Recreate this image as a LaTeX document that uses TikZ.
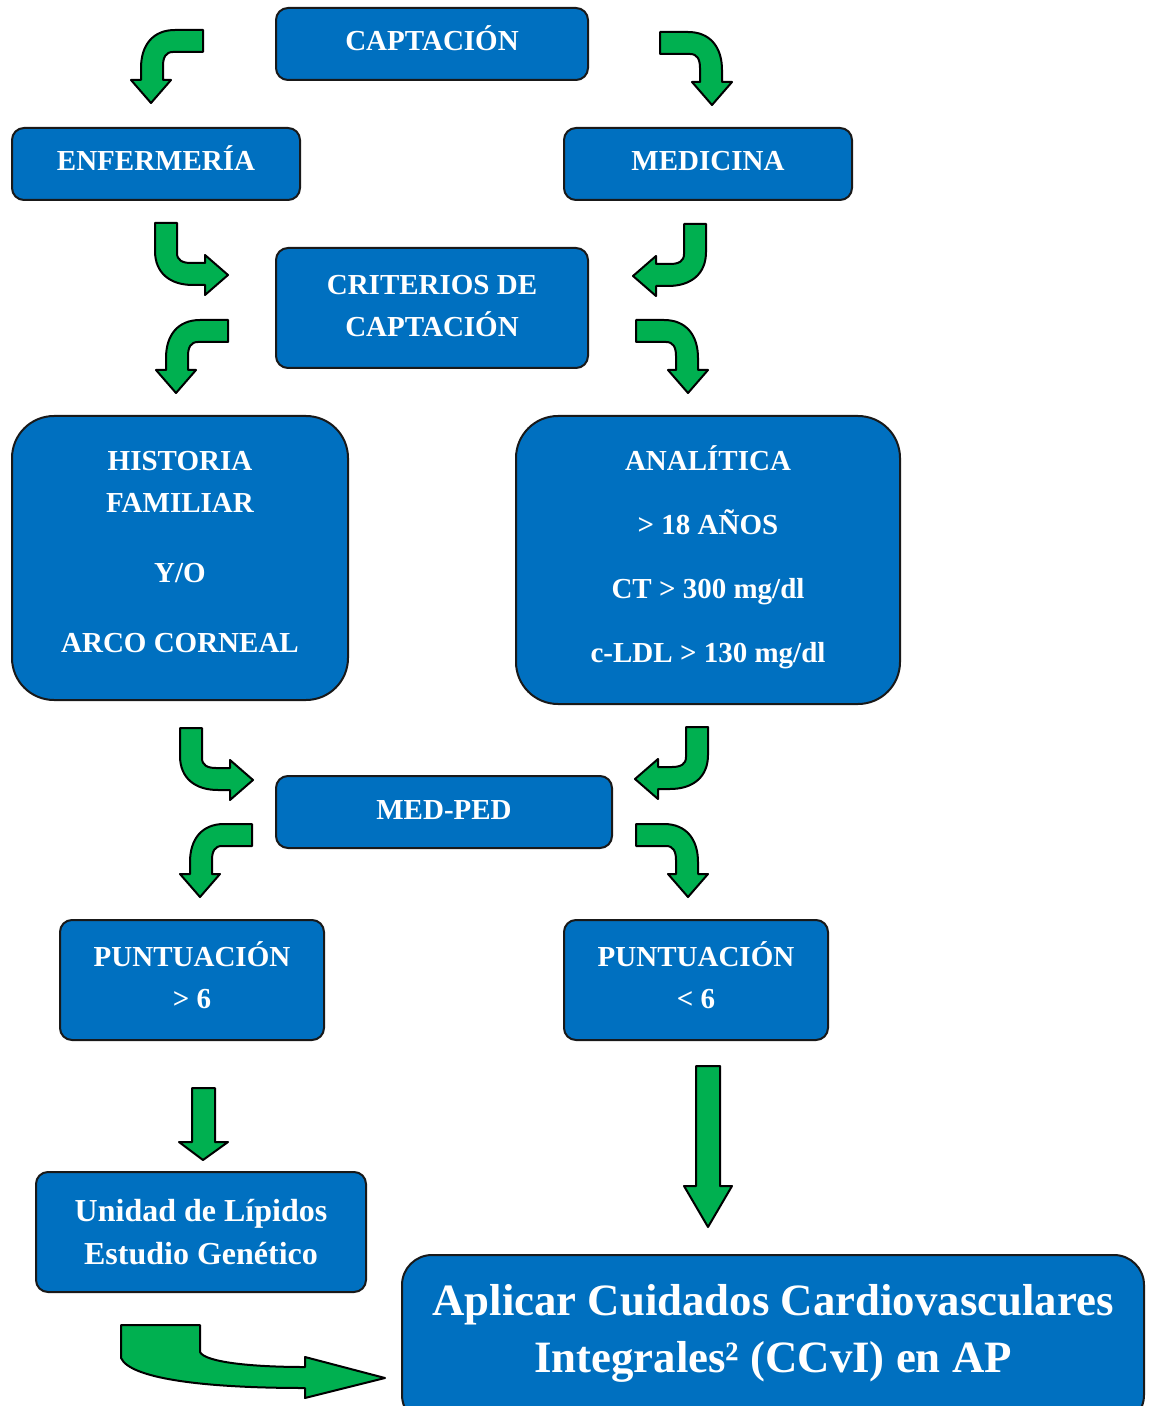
\documentclass[tikz,border=0pt]{standalone}
\usepackage{fontspec}
\setmainfont{Liberation Serif}
\usepackage{xcolor}

\definecolor{boxblue}{HTML}{0070C0}
\definecolor{arrowgreen}{HTML}{00B050}

\tikzset{
  greenarrow/.style={fill=arrowgreen, draw=black, line width=1pt, line join=round},
  % bent arrow: tail comes in from the left, head points down
  benddown/.pic={
    \draw[greenarrow] (0,0) -- (0,22) -- (30,22) .. controls (37,22) and (40,27) .. (40,36)
      -- (40,50) -- (32,50) -- (52,73) -- (72,50) -- (62,50) -- (62,38)
      .. controls (62,15) and (50,0) .. (28,0) -- cycle;
  },
  % bent arrow: tail comes in from the top, head points right
  bendright/.pic={
    \draw[greenarrow] (0,0) -- (22,0) -- (22,30) .. controls (22,37) and (27,40) .. (36,40)
      -- (50,40) -- (50,32) -- (73,52) -- (50,72) -- (50,62) -- (38,62)
      .. controls (15,62) and (0,50) .. (0,28) -- cycle;
  }
}

\begin{document}
\begin{tikzpicture}[x=0.5pt, y=-0.5pt,
  box/.style={draw=black!90, line width=1pt, fill=boxblue, text=white, rounded corners=6pt,
    align=center, inner sep=0pt, font=\fontsize{14.5}{21}\selectfont\bfseries},
  onebox/.style={box, text height=10pt, text depth=3pt},
  bigbox/.style={box, rounded corners=21pt}]
\clip (0,0) rectangle (1152,1406);

% boxes
\node[onebox, minimum width=156pt, minimum height=36pt] (capt) at (432,44) {CAPTACIÓN};
\node[onebox, minimum width=144pt, minimum height=36pt] (enf) at (156,164) {ENFERMERÍA};
\node[onebox, minimum width=144pt, minimum height=36pt] (med) at (708,164) {MEDICINA};
\node[box, text depth=2pt, minimum width=156pt, minimum height=60pt] (crit) at (432,308) {CRITERIOS DE\\CAPTACIÓN};
\node[bigbox, text depth=6pt, minimum width=168pt, minimum height=142pt] (hist) at (180,558)
  {HISTORIA\\FAMILIAR\\[14pt]Y/O\\[14pt]ARCO CORNEAL};
\node[bigbox, text depth=6.2pt, minimum width=192pt, minimum height=144pt] (anal) at (708,560)
  {ANALÍTICA\\[11pt]> 18 AÑOS\\[11pt]CT > 300 mg/dl\\[11pt]c-LDL > 130 mg/dl};
\node[onebox, minimum width=168pt, minimum height=36pt] (medped) at (444,812) {MED-PED};
\node[box, text depth=5pt, minimum width=132pt, minimum height=60pt] (pmas) at (192,980) {PUNTUACIÓN\\> 6};
\node[box, text depth=5pt, minimum width=132pt, minimum height=60pt] (pmenos) at (696,980) {PUNTUACIÓN\\< 6};
\node[box, font=\fontsize{16}{21.5}\selectfont\bfseries, minimum width=165pt, minimum height=60pt] (unidad) at (201,1232)
  {Unidad de Lípidos\\Estudio Genético};
\node[box, rounded corners=15pt, minimum width=371pt, minimum height=85pt,
  label={[font=\fontsize{22.4}{28.5}\selectfont\bfseries, text=white, align=center, yshift=3.5pt]center:Aplicar Cuidados Cardiovasculares\\Integrales² (CCvI) en AP}] (aplicar) at (773,1340) {};

% bent arrows
\pic[xscale=-1] at (203,30) {benddown};
\pic at (660,32) {benddown};
\pic at (155,223) {bendright};
\pic[xscale=-1] at (706,224) {bendright};
\pic[xscale=-1] at (228,320) {benddown};
\pic at (636,320) {benddown};
\pic at (180,728) {bendright};
\pic[xscale=-1] at (708,727) {bendright};
\pic[xscale=-1] at (252,824) {benddown};
\pic at (636,824) {benddown};

% straight arrows
\draw[greenarrow] (192,1088) -- (215,1088) -- (215,1142) -- (228,1142) -- (203,1160) -- (179,1142) -- (192,1142) -- cycle;
\draw[greenarrow] (696,1066) -- (720,1066) -- (720,1186) -- (732,1186) -- (708,1227) -- (684,1186) -- (696,1186) -- cycle;

% curved arrow to the last box
\draw[greenarrow] (121,1325) -- (200,1325) -- (200,1352) .. controls (205,1362) and (250,1367) .. (305,1367)
  -- (305,1357) -- (385,1378) -- (305,1398) -- (305,1388)
  .. controls (200,1388) and (130,1378) .. (121,1358) -- cycle;
\end{tikzpicture}
\end{document}
